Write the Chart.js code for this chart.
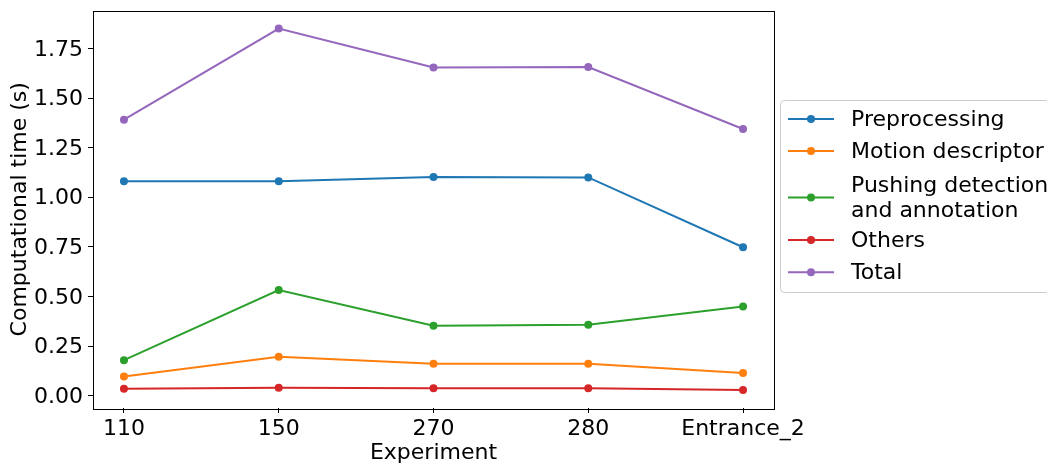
<!DOCTYPE html>
<html><head><meta charset="utf-8">
<script src="https://cdn.jsdelivr.net/npm/chart.js@4"></script>
<style>html,body{margin:0;padding:0;background:#fff}#wrap{width:1047px;height:464px;position:relative}</style>
</head><body><div id="wrap"><canvas id="c" width="1047" height="464"></canvas></div>
<script>
const categories = ['110', '150', '270', '280', 'Entrance_2'];
const preprocessing = [1.080, 1.080, 1.102, 1.100, 0.748];
const motionDescriptor = [0.097, 0.196, 0.161, 0.161, 0.114];
const pushingDetection = [0.179, 0.532, 0.352, 0.357, 0.449];
const others = [0.035, 0.040, 0.037, 0.037, 0.029];
const total = [1.391, 1.850, 1.654, 1.656, 1.344];
const yTicks = [0, 0.25, 0.5, 0.75, 1.0, 1.25, 1.5, 1.75];
const seriesLabels = [['Preprocessing'], ['Motion descriptor'], ['Pushing detection', 'and annotation'], ['Others'], ['Total']];
const colors = ['#1f77b4', '#ff7f0e', '#2ca02c', '#d62728', '#9467bd'];
const seriesValues = [preprocessing, motionDescriptor, pushingDetection, others, total];

const FONT = '"DejaVu Sans", sans-serif';

const datasets = seriesValues.map((vals, k) => ({
  label: seriesLabels[k].join(' '),
  data: vals.map((v, i) => ({x: i, y: v})),
  borderColor: colors[k],
  backgroundColor: colors[k],
  borderWidth: 2,
  pointRadius: 4,
  pointBorderWidth: 0,
  pointHoverRadius: 4,
  tension: 0
}));

const framePlugin = {
  id: 'frame',
  afterDraw(chart) {
    const {ctx, chartArea: a} = chart;
    ctx.save();
    ctx.strokeStyle = '#000';
    ctx.lineWidth = 1;
    ctx.strokeRect(Math.round(a.left) + 0.5, Math.round(a.top) + 0.5, Math.round(a.right - a.left), Math.round(a.bottom - a.top));
    ctx.restore();
  }
};

const legendPlugin = {
  id: 'mplLegend',
  afterDraw(chart) {
    const ctx = chart.ctx;
    ctx.save();
    const bx = 780.5, by = 100.5, bw = 300, bh = 192;
    ctx.fillStyle = 'rgba(255,255,255,0.8)';
    ctx.strokeStyle = '#cccccc';
    ctx.lineWidth = 1;
    ctx.beginPath();
    if (ctx.roundRect) ctx.roundRect(bx, by, bw, bh, 4); else ctx.rect(bx, by, bw, bh);
    ctx.fill(); ctx.stroke();
    ctx.font = '22px ' + FONT;
    ctx.textBaseline = 'middle';
    ctx.textAlign = 'left';
    const rows = [119, 151, 197.5, 240, 272.3];
    const lh = 24.7;
    seriesLabels.forEach((lines, k) => {
      const cy = rows[k];
      ctx.strokeStyle = colors[k];
      ctx.lineWidth = 2;
      ctx.beginPath(); ctx.moveTo(788, cy); ctx.lineTo(834, cy); ctx.stroke();
      ctx.fillStyle = colors[k];
      ctx.beginPath(); ctx.arc(811, cy, 4, 0, Math.PI * 2); ctx.fill();
      ctx.fillStyle = '#000';
      const y0 = cy - (lines.length - 1) * lh / 2;
      lines.forEach((t, j) => ctx.fillText(t, 851, y0 + j * lh + 1));
    });
    ctx.restore();
  }
};

new Chart(document.getElementById('c'), {
  type: 'line',
  data: {datasets},
  options: {
    responsive: false,
    animation: false,
    events: [],
    layout: {padding: {left: 0, top: 10.5, right: 273, bottom: 0}},
    plugins: {legend: {display: false}, tooltip: {enabled: false}},
    scales: {
      x: {
        type: 'linear',
        min: -0.2, max: 4.2,
        afterFit(s) { s.height = 56; s.paddingLeft = 0; s.paddingRight = 0; },
        afterBuildTicks(s) { s.ticks = categories.map((c, i) => ({value: i})); },
        ticks: {
          autoSkip: false, maxRotation: 0, color: '#000', padding: 3,
          font: {family: FONT, size: 22},
          callback: (v) => categories[v]
        },
        grid: {display: true, drawOnChartArea: false, drawTicks: true, tickLength: 5, color: '#000'},
        border: {display: false},
        title: {display: true, text: 'Experiment', color: '#000', font: {family: FONT, size: 22}, padding: {top: 0, bottom: -2}}
      },
      y: {
        type: 'linear',
        min: -0.062, max: 1.941,
        afterFit(s) { s.width = 93; s.paddingTop = 0; s.paddingBottom = 0; },
        afterBuildTicks(s) { s.ticks = yTicks.map(v => ({value: v})); },
        ticks: {
          color: '#000', padding: 5, labelOffset: 1.5,
          font: {family: FONT, size: 22},
          callback: (v) => v.toFixed(2)
        },
        grid: {display: true, drawOnChartArea: false, drawTicks: true, tickLength: 5, color: '#000'},
        border: {display: false},
        title: {display: true, text: 'Computational time (s)', color: '#000', font: {family: FONT, size: 22}, padding: {top: 7, bottom: 0}}
      }
    }
  },
  plugins: [framePlugin, legendPlugin]
});
</script></body></html>
